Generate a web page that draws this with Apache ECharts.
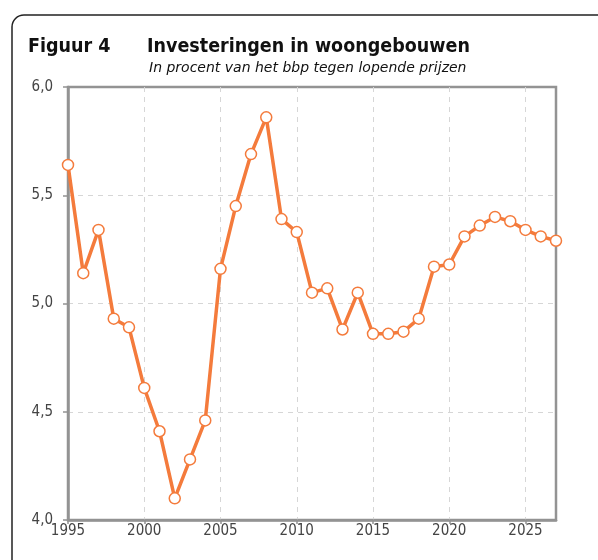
<!DOCTYPE html>
<html lang="nl">

<head>
    <meta charset="UTF-8">
    <title>Figuur 4</title>
    <script src="https://cdn.jsdelivr.net/npm/echarts@6/dist/echarts.min.js"></script>
    <style>
        html, body {
            margin: 0;
            padding: 0;
            background: #ffffff;
        }

        #chart {
            width: 598px;
            height: 560px;
        }
    </style>
</head>

<body>
    <div id="chart"></div>
</body>
<script>
    // jaren en waarden (procent bbp)
    var years = [1995, 1996, 1997, 1998, 1999, 2000, 2001, 2002, 2003, 2004,
        2005, 2006, 2007, 2008, 2009, 2010, 2011, 2012, 2013, 2014,
        2015, 2016, 2017, 2018, 2019, 2020, 2021, 2022, 2023, 2024,
        2025, 2026, 2027];
    var investering = [5.64, 5.14, 5.34, 4.93, 4.89, 4.61, 4.41, 4.10, 4.28, 4.46,
        5.16, 5.45, 5.69, 5.86, 5.39, 5.33, 5.05, 5.07, 4.88, 5.05,
        4.86, 4.86, 4.87, 4.93, 5.17, 5.18, 5.31, 5.36, 5.40, 5.38,
        5.34, 5.31, 5.29];

    var figuurLabel = 'Figuur 4';
    var titel = 'Investeringen in woongebouwen';
    var ondertitel = 'In procent van het bbp tegen lopende prijzen';

    var points = [];
    for (var i = 0; i < years.length; i++) {
        points.push([years[i], investering[i]]);
    }

    var frameColor = '#939393';
    var gridColor = '#d6d6d6';
    var lineColor = '#f47b3c';
    var labelFont = 'DejaVu Sans Condensed';

    var myChart = echarts.init(document.getElementById('chart'));
    var option = {
        animation: false,
        textStyle: { fontFamily: labelFont },
        graphic: [
            {
                // afgeronde kader, alleen linksboven zichtbaar
                type: 'rect',
                shape: { x: 12, y: 15, width: 620, height: 600, r: 12 },
                style: { fill: 'none', stroke: '#222', lineWidth: 1.5 }
            },
            {
                type: 'text',
                x: 28, y: 47,
                style: {
                    text: figuurLabel, font: 'bold 19.5px "DejaVu Sans Condensed"',
                    fill: '#111', verticalAlign: 'middle'
                }
            },
            {
                type: 'text',
                x: 147, y: 47,
                style: {
                    text: titel, font: 'bold 19.5px "DejaVu Sans Condensed"',
                    fill: '#111', verticalAlign: 'middle'
                }
            },
            {
                type: 'text',
                x: 149, y: 68,
                style: {
                    text: ondertitel, font: 'italic 14px "DejaVu Sans"',
                    fill: '#111', verticalAlign: 'middle'
                }
            }
        ],
        grid: {
            left: 68,
            right: 42,
            top: 87,
            bottom: 40,
            show: true,
            borderColor: frameColor,
            borderWidth: 2.5
        },
        xAxis: {
            type: 'value',
            min: 1995,
            max: 2027,
            interval: 5,
            axisLine: { show: true, lineStyle: { color: frameColor, width: 2.5 } },
            axisTick: { show: true, length: 4, lineStyle: { color: frameColor, width: 1.5 } },
            axisLabel: {
                color: '#444', fontSize: 15, margin: 4, showMaxLabel: false,
                formatter: function (v) {
                    return String(v);
                }
            },
            splitLine: {
                show: true,
                showMinLine: false,
                showMaxLine: false,
                lineStyle: { color: gridColor, type: [5, 5], width: 1 }
            }
        },
        yAxis: {
            type: 'value',
            min: 4,
            max: 6,
            interval: 0.5,
            axisLine: { show: true, lineStyle: { color: frameColor, width: 2.5 } },
            axisTick: { show: true, length: 5, lineStyle: { color: frameColor, width: 1.5 } },
            axisLabel: {
                color: '#444', fontSize: 15, margin: 15,
                formatter: function (v) {
                    return v.toFixed(1).replace('.', ',');
                }
            },
            splitLine: {
                show: true,
                showMinLine: false,
                showMaxLine: false,
                lineStyle: { color: gridColor, type: [5, 5], width: 1 }
            }
        },
        series: [{
            type: 'line',
            data: points,
            symbol: 'circle',
            symbolSize: 11,
            lineStyle: { color: lineColor, width: 3.5 },
            itemStyle: { color: '#fff', borderColor: lineColor, borderWidth: 1.5 }
        }]
    };
    myChart.setOption(option);
</script>

</html>
